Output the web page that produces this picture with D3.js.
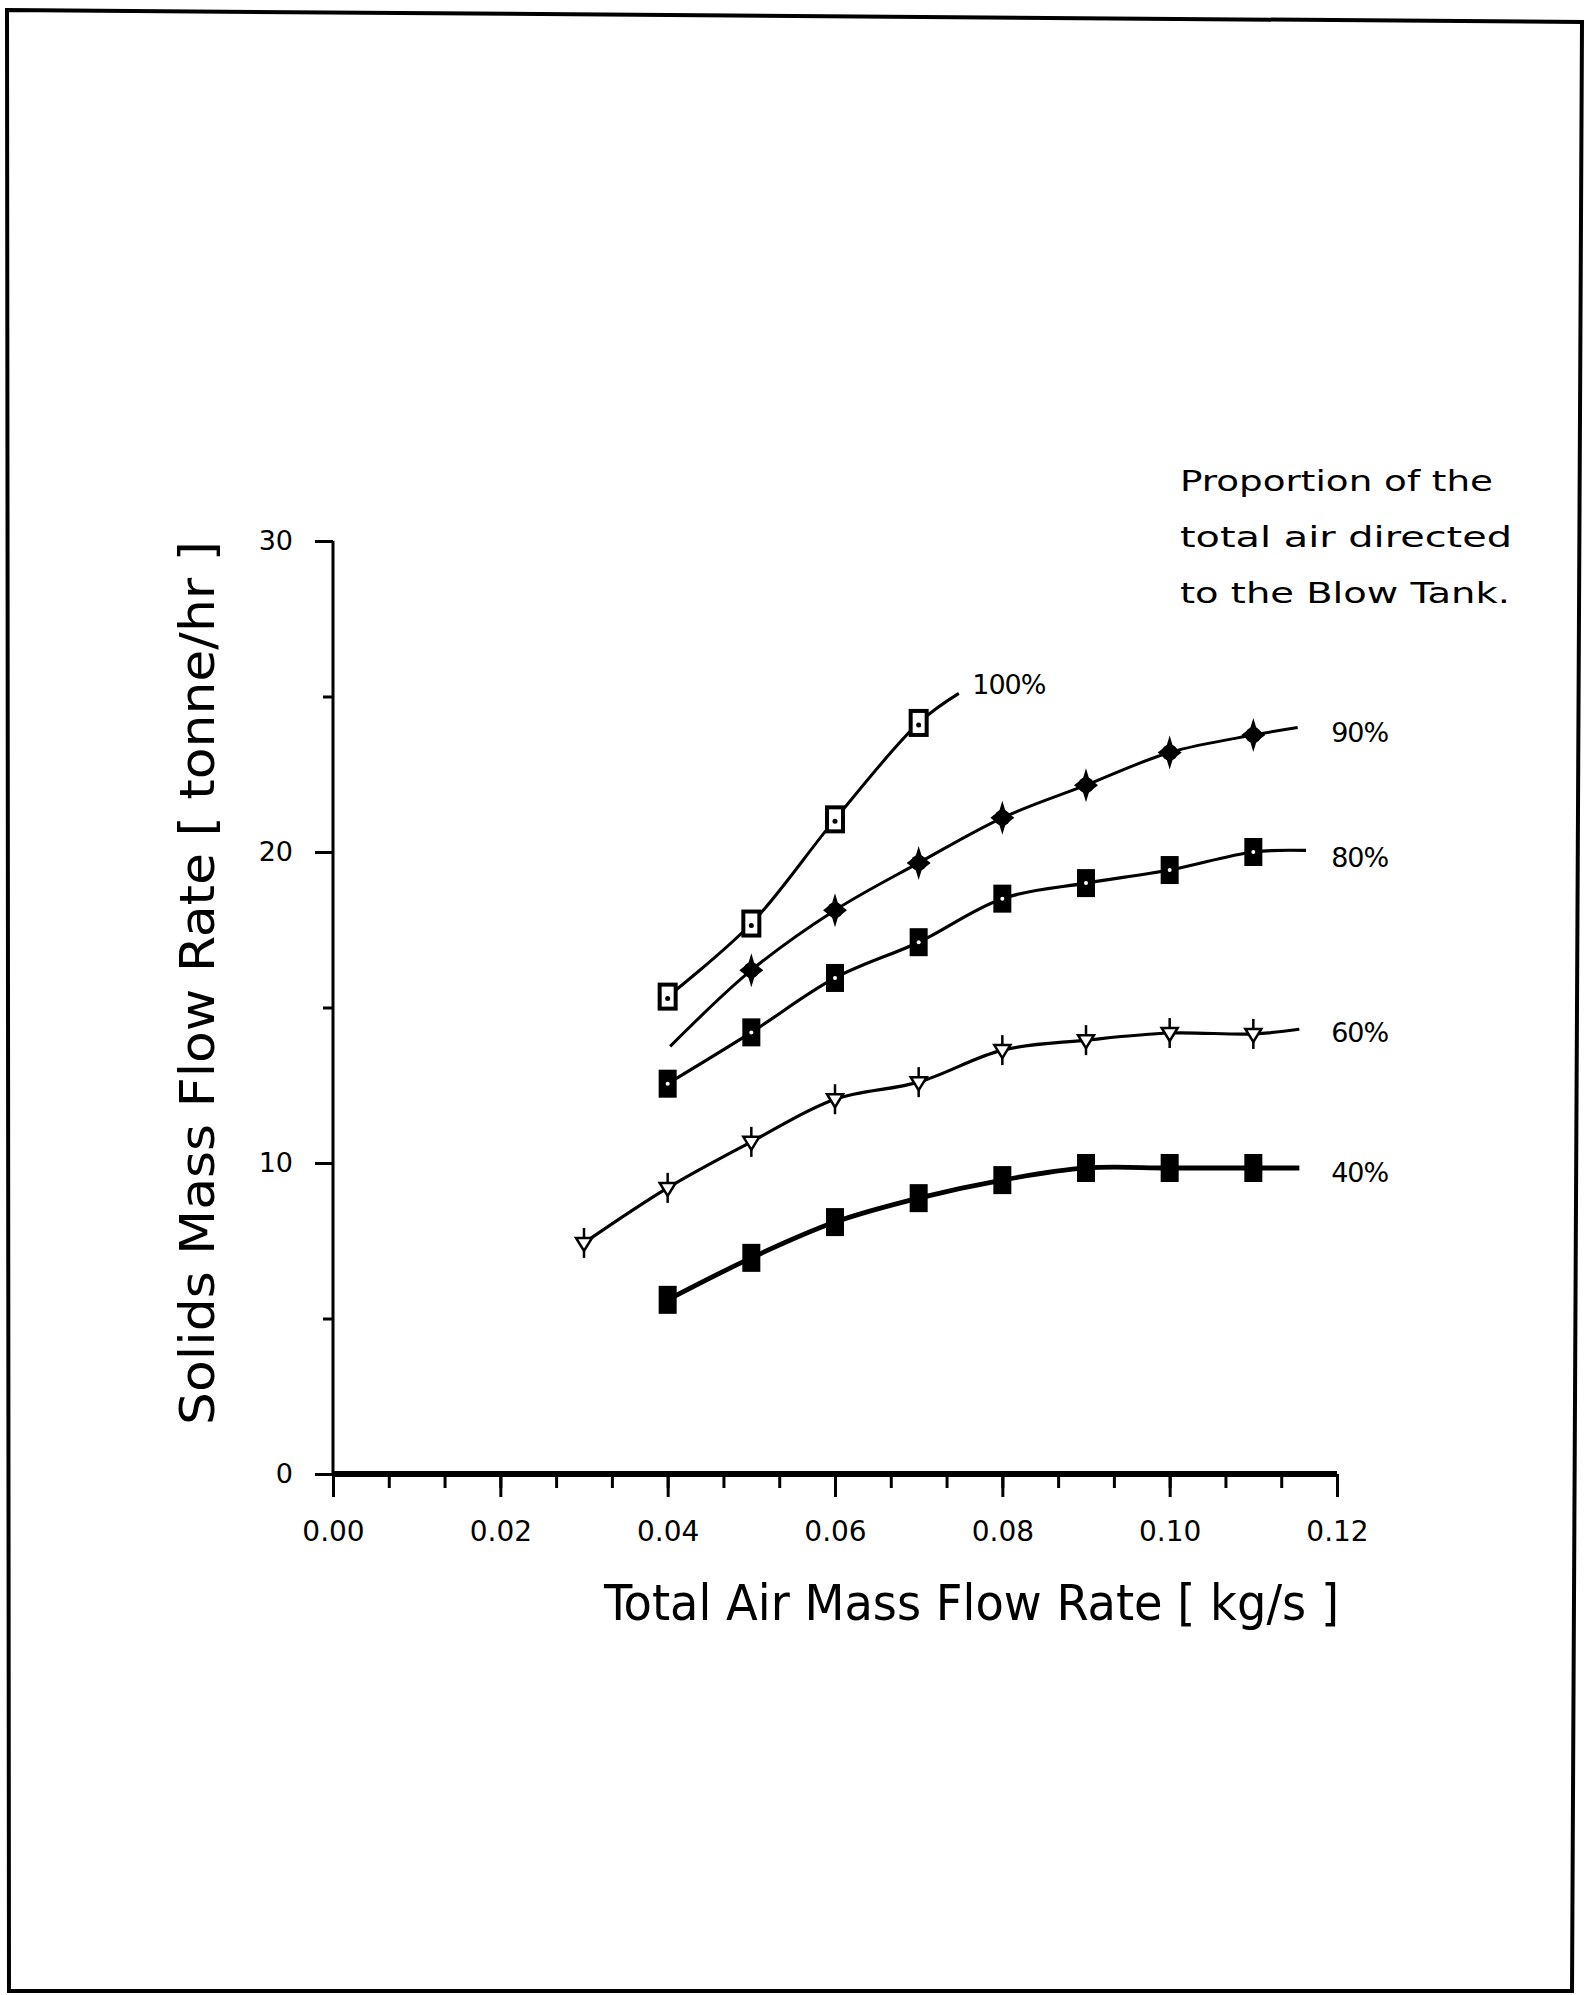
<!DOCTYPE html>
<html>
<head>
<meta charset="utf-8">
<script src="https://cdn.jsdelivr.net/npm/d3@7"></script>
<style>
  body { margin: 0; background: #fff; }
  svg { display: block; }
</style>
</head>
<body>
<div id="viz-container"></div>
<script>
// data
const seriesNames = ["100%", "90%", "80%", "60%", "40%"];

const x100 = [0.04, 0.05, 0.06, 0.07];
const y100 = [15.35, 17.7, 21.05, 24.15];

const x90 = [0.05, 0.06, 0.07, 0.08, 0.09, 0.10, 0.11];
const y90 = [16.2, 18.13, 19.65, 21.1, 22.15, 23.2, 23.76];

const x80 = [0.04, 0.05, 0.06, 0.07, 0.08, 0.09, 0.10, 0.11];
const y80 = [12.55, 14.2, 15.95, 17.1, 18.5, 19.0, 19.42, 20.0];

const x60 = [0.03, 0.04, 0.05, 0.06, 0.07, 0.08, 0.09, 0.10, 0.11];
const y60 = [7.43, 9.2, 10.68, 12.05, 12.6, 13.63, 13.95, 14.18, 14.15];

const x40 = [0.04, 0.05, 0.06, 0.07, 0.08, 0.09, 0.10, 0.11];
const y40 = [5.6, 6.95, 8.1, 8.87, 9.45, 9.84, 9.84, 9.84];

// where the fitted curves begin / end beyond the markers
const fitStart = [null, [0.0403, 13.75], null, null, null];
const fitEnd = [[0.0748, 25.1], [0.1153, 24.0], [0.1163, 20.05], [0.1155, 14.3], [0.1155, 9.84]];
// where each % label sits (data units)
const labelAt = [[0.0764, 25.4], [0.1193, 23.86], [0.1193, 19.84], [0.1193, 14.21], [0.1193, 9.71]];

const xMajor = [0, 0.02, 0.04, 0.06, 0.08, 0.10, 0.12];
const yMajor = [0, 10, 20, 30];
const yMinor = [5, 15, 25];

const legendLines = ["Proportion of the", "total air directed", "to the Blow Tank."];

const W = 1592, H = 1995;

let viz = d3.select("#viz-container")
  .append("svg")
    .attr("width", W)
    .attr("height", H);

// scanned page frame (slightly skewed)
viz.append("path")
  .attr("d", "M7,10 L1582,22 L1572,1991 L9,1991 Z")
  .attr("fill", "none")
  .attr("stroke", "#000")
  .attr("stroke-width", 4);

let x = d3.scaleLinear().domain([0, 0.12]).range([333, 1337]);
let y = d3.scaleLinear().domain([0, 30]).range([1474, 541]);

const tickFont = "'DejaVu Sans', sans-serif";
const titleFont = "'Liberation Sans Narrow', 'DejaVu Sans Condensed', 'Liberation Sans', sans-serif";

// x axis: minor ticks then major ticks + labels
let xMinorVals = d3.range(19).map(i => i * 0.02 / 3);
viz.append("g")
  .attr("transform", "translate(0," + y(0) + ")")
  .call(d3.axisBottom(x).tickValues(xMinorVals).tickSize(14).tickFormat(""))
  .call(g => g.select(".domain").remove())
  .selectAll("line").attr("stroke-width", 3);

let xAxis = viz.append("g")
  .attr("transform", "translate(0," + y(0) + ")")
  .call(d3.axisBottom(x).tickValues(xMajor).tickSize(23).tickPadding(24).tickFormat(d3.format(".2f")));
xAxis.select(".domain").attr("d", "M" + x(0) + ",0H" + x(0.12)).attr("stroke-width", 6);
xAxis.selectAll("line").attr("stroke-width", 3);
xAxis.selectAll("text").attr("font-family", tickFont).attr("font-size", 28).attr("fill", "#000");

// y axis
viz.append("g")
  .attr("transform", "translate(" + x(0) + ",0)")
  .call(d3.axisLeft(y).tickValues(yMinor).tickSize(10).tickFormat(""))
  .call(g => g.select(".domain").remove())
  .selectAll("line").attr("stroke-width", 3);

let yAxis = viz.append("g")
  .attr("transform", "translate(" + x(0) + ",0)")
  .call(d3.axisLeft(y).tickValues(yMajor).tickSize(18).tickPadding(22));
yAxis.select(".domain").attr("d", "M0," + y(30) + "V" + y(0)).attr("stroke-width", 3);
yAxis.selectAll("line").attr("stroke-width", 3);
yAxis.selectAll("text").attr("font-family", tickFont).attr("font-size", 27).attr("fill", "#000");

// axis titles
viz.append("text")
  .text("Total Air Mass Flow Rate [ kg/s ]")
  .attr("x", 604)
  .attr("y", 1620)
  .attr("font-family", titleFont)
  .attr("font-size", 50)
  .attr("textLength", 735)
  .attr("lengthAdjust", "spacingAndGlyphs");

viz.append("text")
  .text("Solids Mass Flow Rate  [ tonne/hr ]")
  .attr("transform", "translate(214,1425) rotate(-90)")
  .attr("font-family", titleFont)
  .attr("font-size", 48)
  .attr("textLength", 884)
  .attr("lengthAdjust", "spacingAndGlyphs");

// legend note
viz.selectAll(".legend").data(legendLines).enter()
  .append("text")
    .attr("class", "legend")
    .text(d => d)
    .attr("x", 1180)
    .attr("y", (d, i) => 491 + i * 56)
    .attr("font-family", tickFont)
    .attr("font-size", 29)
    .attr("textLength", (d, i) => [313, 332, 330][i])
    .attr("lengthAdjust", "spacingAndGlyphs");

// series
const xsAll = [x100, x90, x80, x60, x40];
const ysAll = [y100, y90, y80, y60, y40];
const lineWidths = [3, 3, 3.2, 3.2, 4.8];

let line = d3.line()
  .x(d => x(d[0]))
  .y(d => y(d[1]))
  .curve(d3.curveCatmullRom.alpha(0.5));

function curvePoints(i) {
  let pts = xsAll[i].map((v, j) => [v, ysAll[i][j]]);
  if (fitStart[i]) pts.unshift(fitStart[i]);
  pts.push(fitEnd[i]);
  return pts;
}

seriesNames.forEach((name, i) => {
  viz.append("path")
    .attr("d", line(curvePoints(i)))
    .attr("fill", "none")
    .attr("stroke", "#000")
    .attr("stroke-width", lineWidths[i]);
});

function markerPoints(i) {
  return xsAll[i].map((v, j) => ({x: v, y: ysAll[i][j]}));
}

// 100%: open squares with a dot
let m100 = viz.selectAll(".m100").data(markerPoints(0)).enter()
  .append("g").attr("class", "m100")
  .attr("transform", d => "translate(" + x(d.x) + "," + y(d.y) + ")");
m100.append("rect").attr("x", -8).attr("y", -12).attr("width", 16).attr("height", 24)
  .attr("fill", "#fff").attr("stroke", "#000").attr("stroke-width", 4);
m100.append("circle").attr("r", 2.5).attr("cy", 2).attr("fill", "#000");

// 90%: filled four-point stars
viz.selectAll(".m90").data(markerPoints(1)).enter()
  .append("path").attr("class", "m90")
  .attr("transform", d => "translate(" + x(d.x) + "," + y(d.y) + ")")
  .attr("d", "M0,-17 L3,-7 L12,0 L3,7 L0,17 L-3,7 L-12,0 L-3,-7 Z")
  .attr("fill", "#000");
viz.selectAll(".m90b").data(markerPoints(1)).enter()
  .append("circle").attr("class", "m90b")
  .attr("cx", d => x(d.x)).attr("cy", d => y(d.y)).attr("r", 8)
  .attr("fill", "#000");

// 80%: filled squares with a white dot
let m80 = viz.selectAll(".m80").data(markerPoints(2)).enter()
  .append("g").attr("class", "m80")
  .attr("transform", d => "translate(" + x(d.x) + "," + y(d.y) + ")");
m80.append("rect").attr("x", -9).attr("y", -14).attr("width", 18).attr("height", 28).attr("fill", "#000");
m80.append("circle").attr("r", 2).attr("fill", "#fff");

// 60%: open down-triangles with a vertical bar
let m60 = viz.selectAll(".m60").data(markerPoints(3)).enter()
  .append("g").attr("class", "m60")
  .attr("transform", d => "translate(" + x(d.x) + "," + y(d.y) + ")");
m60.append("line").attr("y1", -15).attr("y2", 15).attr("stroke", "#000").attr("stroke-width", 2.5);
m60.append("path").attr("d", "M-8,-5 L8,-5 L0,8 Z")
  .attr("fill", "#fff").attr("stroke", "#000").attr("stroke-width", 2.5);

// 40%: filled squares
viz.selectAll(".m40").data(markerPoints(4)).enter()
  .append("rect").attr("class", "m40")
  .attr("x", d => x(d.x) - 9).attr("y", d => y(d.y) - 14)
  .attr("width", 18).attr("height", 28)
  .attr("fill", "#000");

// series labels
viz.selectAll(".lab").data(seriesNames).enter()
  .append("text")
    .attr("class", "lab")
    .text(d => d)
    .attr("x", (d, i) => x(labelAt[i][0]))
    .attr("y", (d, i) => y(labelAt[i][1]))
    .attr("dy", "0.36em")
    .attr("font-family", tickFont)
    .attr("font-size", 27)
    .attr("letter-spacing", -1);
</script>
</body>
</html>
